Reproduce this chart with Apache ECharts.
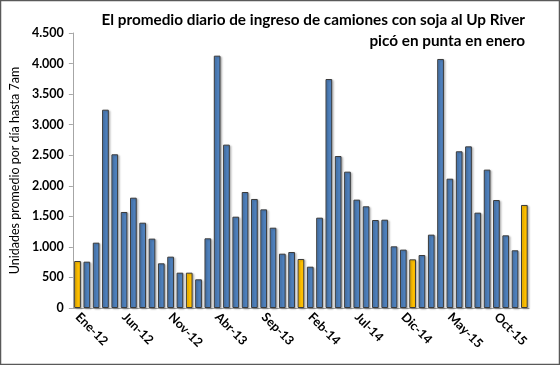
<!DOCTYPE html>
<html><head><meta charset="utf-8">
<script src="https://cdn.jsdelivr.net/npm/echarts@6/dist/echarts.min.js"></script>
<style>html,body{margin:0;padding:0;background:#fff}#c{width:560px;height:365px}</style>
</head><body><div id="c"></div>
<script>
const months = ['Ene','Feb','Mar','Abr','May','Jun','Jul','Ago','Sep','Oct','Nov','Dic'];
const categories = [];
for (let y = 12; y <= 16; y++) for (let m = 0; m < 12; m++) { if (y === 16 && m > 0) break; categories.push(months[m] + '-' + y); }
const values = [769,758,1069,3245,2515,1571,1805,1396,1135,731,840,578,
  578,469,1140,4129,2673,1494,1898,1784,1614,1314,889,916,
  802,676,1478,3747,2487,2231,1773,1664,1440,1445,1009,955,
  796,867,1200,4075,2116,2564,2645,1560,2264,1767,1189,944,
  1686];
const yTicks = [0,500,1000,1500,2000,2500,3000,3500,4000,4500];
const titleLines = ['El promedio diario de ingreso de camiones con soja al Up River','picó en punta en enero'];
const yName = 'Unidades promedio por día hasta 7am';

const chart = echarts.init(document.getElementById('c'), null, {renderer:'canvas'});
chart.setOption({
  animation:false,
  backgroundColor:'#fff',
  textStyle:{fontFamily:'Lato'},
  graphic:[
    {type:'rect', shape:{x:0.5,y:0.5,width:559,height:364}, style:{fill:'none',stroke:'#595959',lineWidth:1.5}},
    {type:'text', x:525, y:10, style:{text:titleLines.join('\n'), align:'right', verticalAlign:'top', font:'bold 15.3px Lato', fill:'#000', lineHeight:21}}
  ],
  grid:{left:72.5,right:31,top:33,bottom:57},
  xAxis:{type:'category', data:categories, boundaryGap:true,
    axisLine:{lineStyle:{color:'#a6a6a6'}},
    axisTick:{interval:4, length:4, lineStyle:{color:'#a6a6a6'}},
    axisLabel:{interval:4, rotate:-45, fontWeight:'bold', fontSize:12.5, color:'#000', margin:7, fontFamily:'Lato'}},
  yAxis:{type:'value', min:yTicks[0], max:yTicks[yTicks.length-1], interval:500,
    name:yName, nameLocation:'middle', nameGap:50, nameTextStyle:{fontSize:12.5, color:'#000', fontFamily:'Lato'},
    axisLine:{show:true, lineStyle:{color:'#a6a6a6'}},
    axisTick:{show:true, length:4, lineStyle:{color:'#a6a6a6'}},
    splitLine:{show:false},
    axisLabel:{fontWeight:'bold', fontSize:12.5, color:'#000', margin:9,
      formatter:v=>String(v).replace(/\B(?=(\d{3})+(?!\d))/g,'.')}},
  series:[{type:'bar', data:values.map((v,i)=>({value:v, itemStyle:{color: categories[i].startsWith('Ene') ? '#FFC000' : '#4F81BD'}})),
    barCategoryGap:'28%',
    itemStyle:{borderColor:'#3a3a3a', borderWidth:1, shadowColor:'rgba(0,0,0,0.25)', shadowBlur:2, shadowOffsetX:1.5, shadowOffsetY:1}}]
});
</script></body></html>
